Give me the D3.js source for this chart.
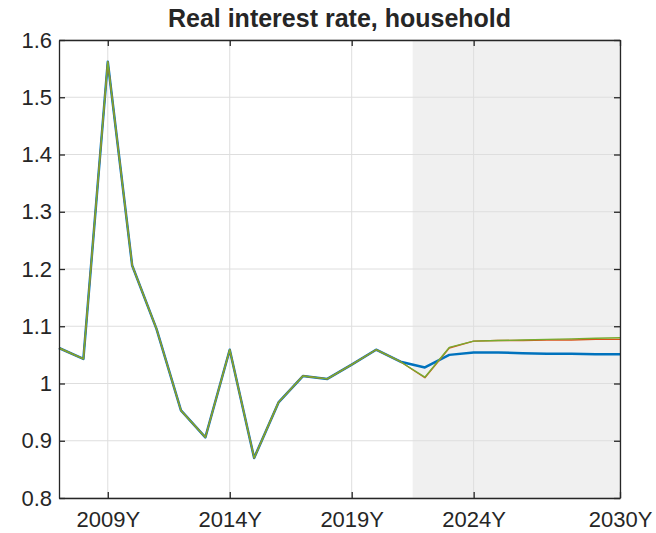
<!DOCTYPE html>
<html>
<head>
<meta charset="utf-8">
<script src="https://cdn.jsdelivr.net/npm/d3@7"></script>
<style>
  body { margin: 0; background: #fff; }
  text { font-family: "Liberation Sans", Arial, sans-serif; fill: #262626; }
</style>
</head>
<body>
<div id="chart"></div>
<script>
// chart size and plot box
const width = 656;
const height = 533;
const margin = {left: 59, right: 36, top: 40, bottom: 35};

// data
const years = d3.range(2007, 2031);
const history = [1.062, 1.043, 1.562, 1.206, 1.095, 0.953, 0.906, 1.059, 0.870, 0.967,
                 1.013, 1.008, 1.033, 1.059, 1.038];
const baseline = history.concat([1.028, 1.050, 1.054, 1.054, 1.053, 1.052, 1.052, 1.051, 1.051]);
const scenarioA = history.concat([1.010, 1.062, 1.074, 1.075, 1.075, 1.076, 1.076, 1.077, 1.077]);
const scenarioB = history.concat([1.011, 1.063, 1.074, 1.075, 1.076, 1.077, 1.078, 1.079, 1.080]);
const xTicks = [2009, 2014, 2019, 2024, 2030];
const yTicks = [0.8, 0.9, 1.0, 1.1, 1.2, 1.3, 1.4, 1.5, 1.6];
const forecastStart = 2021.5;

const svg = d3.select("#chart")
  .append("svg")
  .attr("width", width)
  .attr("height", height);

const x = d3.scaleLinear()
  .domain([2007, 2030])
  .range([margin.left, width - margin.right]);

const y = d3.scaleLinear()
  .domain([0.8, 1.6])
  .range([height - margin.bottom, margin.top]);

// shaded forecast area
svg.append("rect")
  .attr("x", x(forecastStart))
  .attr("y", y(1.6))
  .attr("width", x(2030) - x(forecastStart))
  .attr("height", y(0.8) - y(1.6))
  .attr("fill", "#f0f0f0");

// grid
svg.append("g")
  .selectAll("line")
  .data(xTicks)
  .join("line")
  .attr("x1", d => x(d)).attr("x2", d => x(d))
  .attr("y1", y(1.6)).attr("y2", y(0.8))
  .attr("stroke", "#dedede");

svg.append("g")
  .selectAll("line")
  .data(yTicks)
  .join("line")
  .attr("x1", x(2007)).attr("x2", x(2030))
  .attr("y1", d => y(d)).attr("y2", d => y(d))
  .attr("stroke", "#dedede");

// lines
const line = d3.line()
  .x((d, i) => x(years[i]))
  .y(d => y(d));

const series = [
  {values: baseline, color: "#0072BD", w: 2.5},
  {values: scenarioA, color: "#D95319", w: 1.4},
  {values: scenarioB, color: "#77AC30", w: 1.4}
];

svg.selectAll(".series")
  .data(series)
  .join("path")
  .attr("class", "series")
  .attr("d", d => line(d.values))
  .attr("fill", "none")
  .attr("stroke", d => d.color)
  .attr("stroke-width", d => d.w)
  .attr("stroke-linejoin", "round");

// axes, ticks pointing inward
const tickLen = 6;
svg.append("g")
  .attr("transform", `translate(0,${height - margin.bottom})`)
  .call(d3.axisBottom(x).tickValues(xTicks).tickFormat(d => d + "Y")
    .tickSizeInner(-tickLen).tickSizeOuter(0).tickPadding(13))
  .call(g => g.selectAll("text").attr("font-size", "22px"));

svg.append("g")
  .attr("transform", `translate(0,${margin.top})`)
  .call(d3.axisTop(x).tickValues(xTicks).tickFormat("")
    .tickSizeInner(-tickLen).tickSizeOuter(0));

svg.append("g")
  .attr("transform", `translate(${margin.left},0)`)
  .call(d3.axisLeft(y).tickValues(yTicks).tickFormat(d3.format("~g"))
    .tickSizeInner(-tickLen).tickSizeOuter(0).tickPadding(7))
  .call(g => g.selectAll("text").attr("font-size", "22px"));

svg.append("g")
  .attr("transform", `translate(${width - margin.right},0)`)
  .call(d3.axisRight(y).tickValues(yTicks).tickFormat("")
    .tickSizeInner(-tickLen).tickSizeOuter(0));

svg.selectAll(".domain, .tick line")
  .attr("stroke", "#262626")
  .attr("stroke-width", 1.3);

// title
svg.append("text")
  .attr("x", (margin.left + width - margin.right) / 2)
  .attr("y", 27)
  .attr("text-anchor", "middle")
  .attr("font-size", "25px")
  .attr("font-weight", "bold")
  .attr("fill", "#000")
  .text("Real interest rate, household");
</script>
</body>
</html>
